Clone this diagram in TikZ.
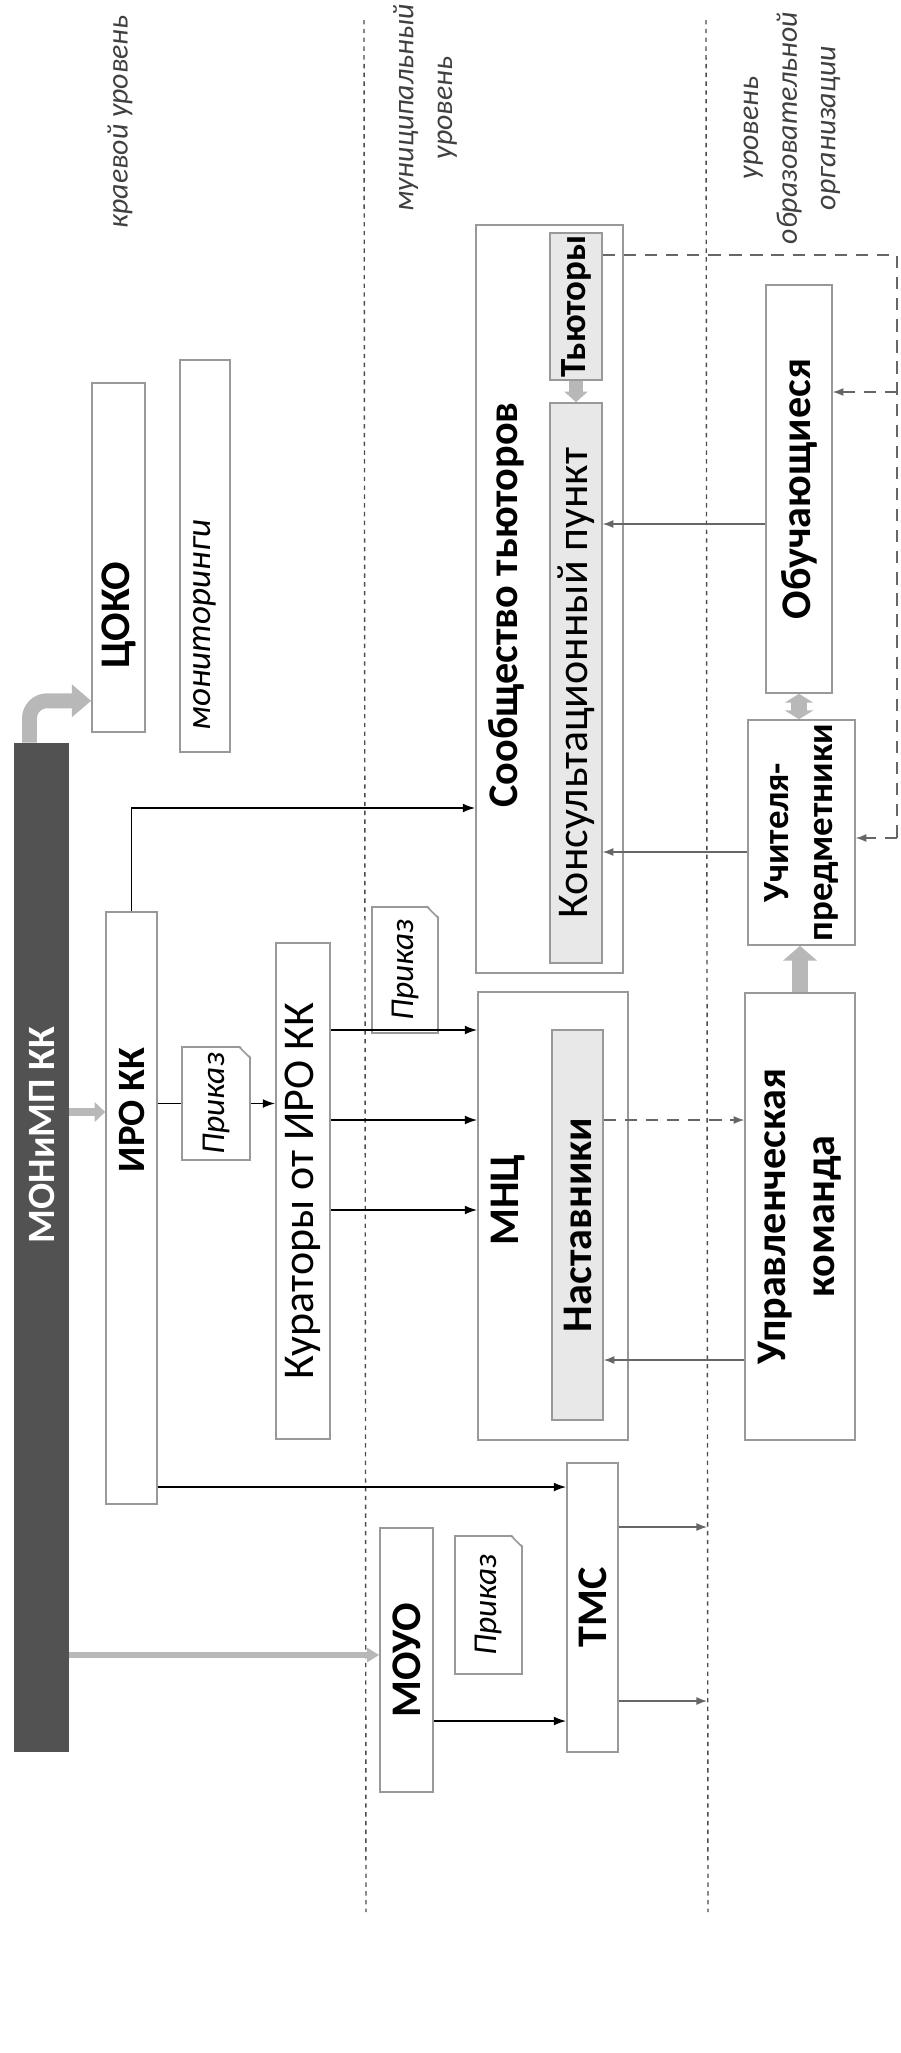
\documentclass[tikz,border=0pt]{standalone}
\usepackage{fontspec}
\setmainfont{Carlito}
\usetikzlibrary{fit,calc,arrows.meta}

\tikzset{
  blk/.style={draw=black!40, line width=0.9pt, inner sep=0pt, fill=white},
  inblk/.style={blk, fill=black!9},
  darkbar/.style={fill=black!68, inner sep=0pt},
  hd/.style={rotate=90, font=\bfseries\fontsize{24}{26}\selectfont, align=center},
  tx/.style={rotate=90, font=\fontsize{25}{28}\selectfont},
  itx/.style={rotate=90, font=\itshape\fontsize{19}{22}\selectfont},
  lvl/.style={rotate=90, font=\itshape\fontsize{17}{22}\selectfont, text=black!75, align=center},
  levline/.style={draw=black!70, line width=0.8pt, dash pattern=on 2.5pt off 2.5pt},
  lnk/.style={-{Latex[length=7pt,width=5pt]}, line width=0.9pt},
  glnk/.style={-{Latex[length=6pt,width=4.5pt]}, line width=0.7pt, draw=black!60},
  dlnk/.style={glnk, dash pattern=on 7pt off 5pt},
  garr/.style={draw=black!28}
}

\begin{document}
\begin{tikzpicture}[x=0.02cm, y=-0.02cm]
\useasboundingbox (0,0) rectangle (901,2053);

%Уровни
\draw[levline] (364,20) -- (366,1912);
\draw[levline] (706,20) -- (708,1912);
\node[lvl] (lkr) at (120,122) {краевой уровень};
\node[lvl] (lmun) at (425,108) {муниципальный\\уровень};
\node[lvl] (lobr) at (792,128) {уровень\\образовательной\\организации};

%Краевой уровень
\node[darkbar, fit={(14,743)(69,1752)}] (moni) {};
\node[hd, text=white, font=\bfseries\fontsize{22}{24}\selectfont] (moni-t) at (41.5,1135) {МОНиМП КК};
\node[blk, fit={(92,383)(145,732)}] (coko) {};
\node[hd] (coko-t) at (118.5,615) {ЦОКО};
\node[blk, fit={(180,360)(230,752)}] (mon) {};
\node[itx, font=\itshape\fontsize{20}{22}\selectfont] (mon-t) at (205,625) {мониторинги};
\node[blk, fit={(106,912)(157,1504)}] (iro) {};
\node[hd, font=\bfseries\fontsize{22}{24}\selectfont] (iro-t) at (131.5,1110) {ИРО КК};
\node[blk, fit={(276,943)(330,1439)}] (kur) {};
\node[tx] (kur-t) at (kur) {Кураторы от ИРО КК};

%Приказы
\node[blk, fit={(182,1047)(250,1160)}] (prik1) {};
\node[blk, fit={(372,907)(438,1033)}] (prik2) {};
\node[blk, fit={(455,1536)(522,1674)}] (prik3) {};
\foreach \p in {prik1,prik2,prik3} {
  \fill[white] ([shift={(1pt,1pt)}]\p.north east) -- ([shift={(-7pt,1pt)}]\p.north east)
    -- ([shift={(1pt,-7pt)}]\p.north east) -- cycle;
  \draw[draw=black!40, line width=0.9pt] ([xshift=-7pt]\p.north east) -- ([yshift=-7pt]\p.north east);
  \node[itx] (\p-t) at (\p) {Приказ};
}

%Муниципальный уровень
\node[blk, fit={(476,225)(623,973)}] (soob) {};
\node[hd] (soob-t) at (506,605) {Сообщество тьюторов};
\node[inblk, fit={(550,233)(602,380)}] (tut) {};
\node[hd, font=\bfseries\fontsize{21}{23}\selectfont] (tut-t) at (tut) {Тьюторы};
\node[inblk, fit={(550,403)(602,963)}] (kons) {};
\node[tx] (kons-t) at (kons) {Консультационный пункт};
\node[blk, fit={(478,992)(628,1440)}] (mnc) {};
\node[hd] (mnc-t) at (508,1200) {МНЦ};
\node[inblk, fit={(552,1030)(603,1420)}] (nast) {};
\node[hd] (nast-t) at (nast) {Наставники};
\node[blk, fit={(380,1528)(433,1792)}] (moyo) {};
\node[hd] (moyo-t) at (406.5,1660) {МОУО};
\node[blk, fit={(567,1463)(618,1752)}] (tms) {};
\node[hd] (tms-t) at (tms) {ТМС};

%Уровень образовательной организации
\node[blk, fit={(766,285)(832,693)}] (obuch) {};
\node[hd] (obuch-t) at (obuch) {Обучающиеся};
\node[blk, fit={(748,720)(855,945)}] (uch) {};
\node[hd, font=\bfseries\fontsize{21}{25}\selectfont] (uch-t) at (uch) {Учителя-\\предметники};
\node[blk, fit={(745,993)(855,1440)}] (upr) {};
\node[hd, font=\bfseries\fontsize{24}{28}\selectfont] (upr-t) at (upr) {Управленческая\\команда};

%Серые стрелки
\draw[garr, line width=8.5pt, -{Triangle[length=11pt,width=18pt]}, rounded corners=10pt]
  ($(moni.north)+(-12,0)$) |- ($(coko.south west)+(0,-32)$);
\draw[garr, line width=4.5pt, -{Triangle[length=6pt,width=11pt]}] (moni.east |- 0,1112) -- (iro.west |- 0,1112);
\draw[garr, line width=3.4pt, -{Triangle[length=7pt,width=8pt]}] (moni.east |- 0,1655) -- (moyo.west |- 0,1655);
\draw[garr, line width=7.5pt, -{Triangle[length=6pt,width=13pt]}] (tut.south) -- (kons.north);
\draw[garr, line width=9.5pt, -{Triangle[length=8.5pt,width=19pt]}] (upr.north) -- (upr.north |- uch.south);
\draw[garr, line width=9.5pt, {Triangle[length=5pt,width=16pt]}-{Triangle[length=5pt,width=16pt]}] (obuch.south) -- (obuch.south |- uch.north);

%Стрелки
\draw[lnk] (iro.north) |- (soob.west |- 0,808);
\draw[line width=0.9pt] (iro.east |- prik1) -- (prik1.west);
\draw[lnk] (prik1.east) -- (kur.west |- prik1);
\foreach \y in {1030,1120,1210}
  \draw[lnk] (kur.east |- 0,\y) -- (mnc.west |- 0,\y);
\draw[lnk] (iro.east |- 0,1487) -- (tms.west |- 0,1487);
\draw[lnk] (moyo.east |- 0,1721) -- (tms.west |- 0,1721);
\coordinate (t1) at (707,1527);
\coordinate (t2) at (707,1701);
\draw[glnk] (tms.east |- t1) -- (t1);
\draw[glnk] (tms.east |- t2) -- (t2);
\draw[glnk] (obuch.west |- 0,524) -- (kons.east |- 0,524);
\draw[glnk] (uch.west |- 0,852) -- (kons.east |- 0,852);
\draw[glnk] (upr.west |- 0,1360) -- (nast.east |- 0,1360);
\draw[dlnk] (nast.east |- 0,1120) -- (upr.west |- 0,1120);

%Пунктир от тьюторов
\coordinate (d1) at (897,255);
\coordinate (d2) at (897,838);
\draw[glnk, dash pattern=on 7pt off 5pt, -] (tut.east |- d1) -- (d1) -- (d2);
\draw[dlnk] (d2) -- (uch.east |- d2);
\draw[dlnk] (d1 |- 0,392) -- (obuch.east |- 0,392);

\end{tikzpicture}
\end{document}
